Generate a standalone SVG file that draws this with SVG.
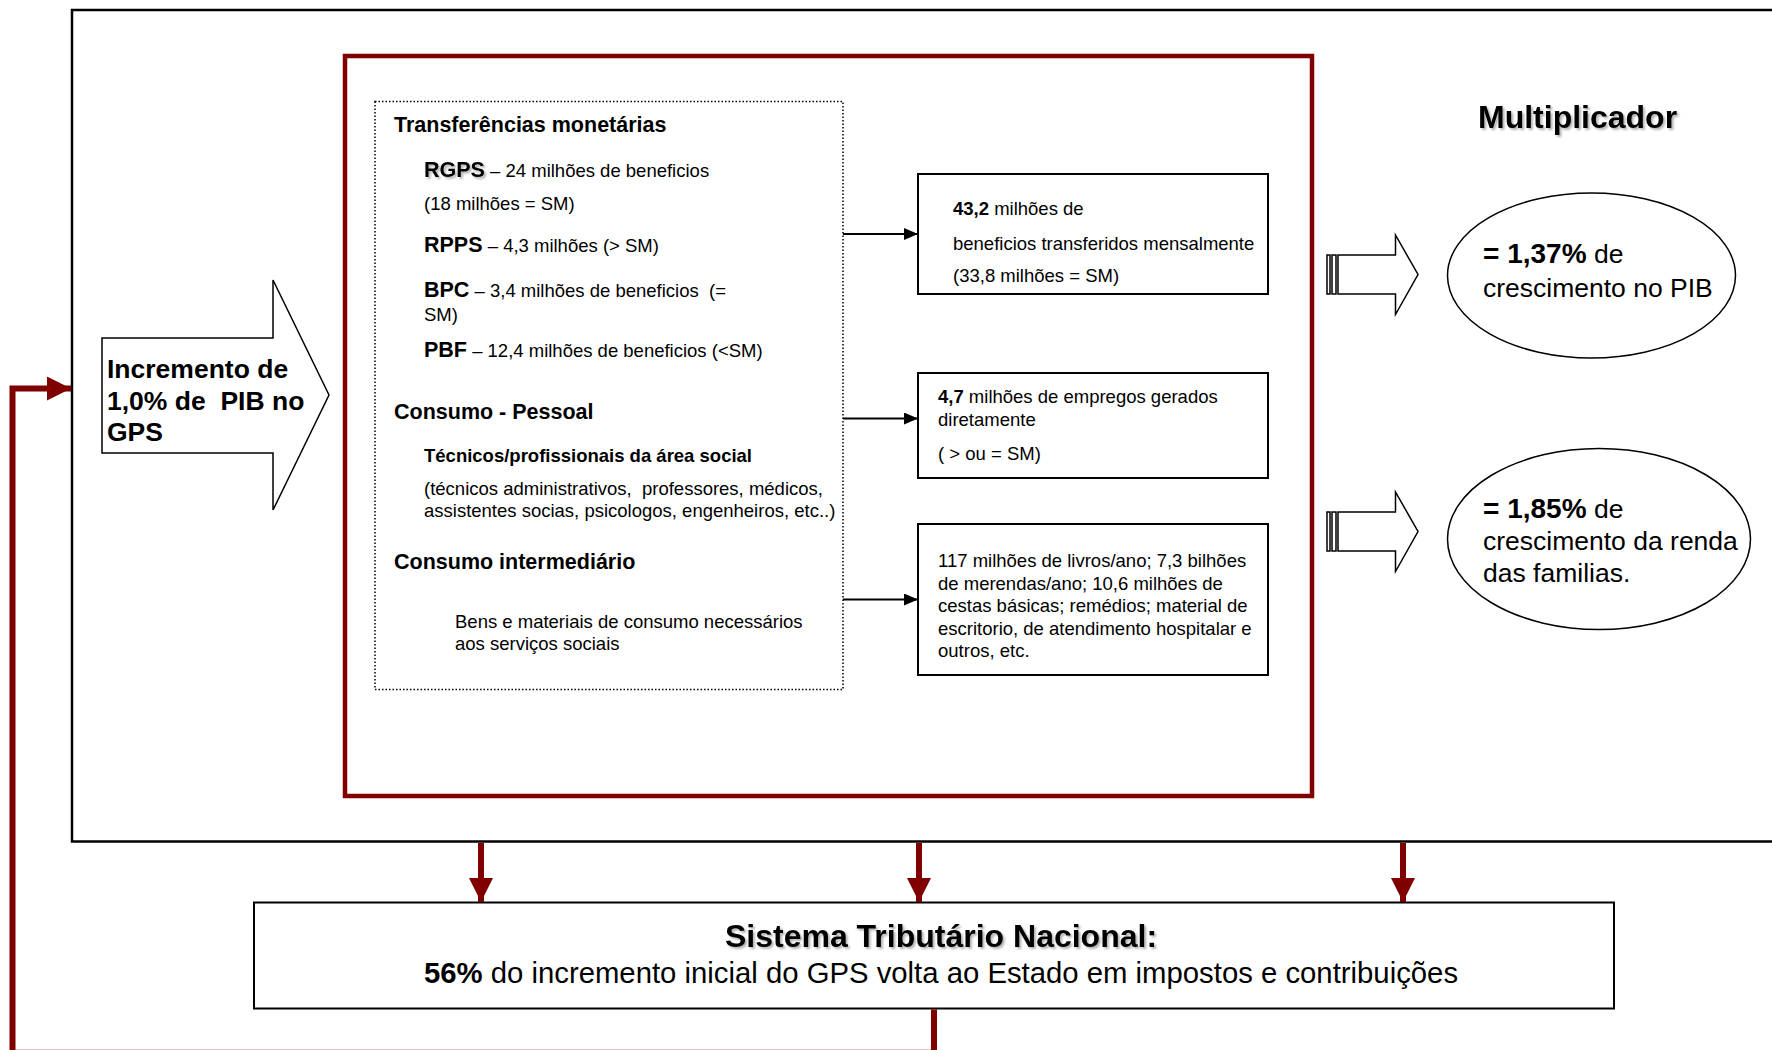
<svg xmlns="http://www.w3.org/2000/svg" width="1772" height="1050" viewBox="0 0 1772 1050">
  <defs>
    <style>
      text { font-family: "Liberation Sans", Arial, sans-serif; fill: #000; white-space: pre; }
      .h { font-weight: bold; font-size: 21.5px; }
      .t { font-size: 18.5px; }
      .b { font-weight: bold; }
      .box { fill: #fff; stroke: #000; stroke-width: 2; }
      .red { fill: none; stroke: #800000; stroke-width: 6; }
      .blk { fill: none; stroke: #000; stroke-width: 2; }
      .blockarrow { fill: #fff; stroke: #000; stroke-width: 1.5; stroke-linejoin: miter; }
    </style>
    <filter id="shadow" x="-5%" y="-20%" width="110%" height="150%">
      <feDropShadow dx="2" dy="2" stdDeviation="1.2" flood-color="#000" flood-opacity="0.3"/>
    </filter>
    <marker id="arrBlack" markerUnits="userSpaceOnUse" markerWidth="14" markerHeight="12" refX="14" refY="6" orient="auto">
      <path d="M0,0 L14,6 L0,12 z" fill="#000"/>
    </marker>
    <marker id="arrRed" markerUnits="userSpaceOnUse" markerWidth="24" markerHeight="24" refX="24" refY="12" orient="auto">
      <path d="M0,0 L24,12 L0,24 z" fill="#800000"/>
    </marker>
    <!-- striped block arrow pointing right, origin at its tip -->
    <g id="stripedArrow">
      <rect class="blockarrow" x="-91" y="-19.5" width="3" height="39"/>
      <rect class="blockarrow" x="-86" y="-19.5" width="4" height="39"/>
      <path class="blockarrow" d="M-80,-19.5 H-22.5 V-39.5 L0,0 L-22.5,40 V19.5 H-80 z"/>
    </g>
  </defs>

  <rect width="1772" height="1050" fill="#fff"/>

  <!-- outer frame -->
  <g id="frame">
    <rect x="72" y="10" width="1720" height="831.5" fill="none" stroke="#000" stroke-width="2.5"/>
  </g>

  <!-- GPS spending block -->
  <g id="gps-block">
    <rect x="345" y="56" width="967" height="740" fill="none" stroke="#800000" stroke-width="4.5"/>
  </g>

  <!-- input arrow -->
  <g id="node-incremento">
    <path class="blockarrow" d="M102,338 H273 V280 L329,395 L273,510 V453 H102 z"/>
    <text class="b" x="107" y="378" font-size="26.5">Incremento de</text>
    <text class="b" x="107" y="410" font-size="26.5">1,0% de  PIB no</text>
    <text class="b" x="107" y="441" font-size="26.5">GPS</text>
  </g>

  <!-- spending categories -->
  <g id="node-categorias">
    <rect x="375" y="101.5" width="468" height="588" fill="none" stroke="#000" stroke-width="1.5" stroke-dasharray="1.5 2"/>
    <text class="h" x="394" y="132">Transferências monetárias</text>
    <text class="t" x="424" y="177"><tspan class="h" filter="url(#shadow)">RGPS</tspan> – 24 milhões de beneficios</text>
    <text class="t" x="424" y="210">(18 milhões = SM)</text>
    <text class="t" x="424" y="252"><tspan class="h">RPPS</tspan> – 4,3 milhões (&gt; SM)</text>
    <text class="t" x="424" y="297"><tspan class="h">BPC</tspan> – 3,4 milhões de beneficios  (=</text>
    <text class="t" x="424" y="321">SM)</text>
    <text class="t" x="424" y="357"><tspan class="h">PBF</tspan> – 12,4 milhões de beneficios (&lt;SM)</text>
    <text class="h" x="394" y="419">Consumo - Pessoal</text>
    <text class="t b" x="424" y="462">Técnicos/profissionais da área social</text>
    <text class="t" x="424" y="495">(técnicos administrativos,  professores, médicos,</text>
    <text class="t" x="424" y="517">assistentes socias, psicologos, engenheiros, etc..)</text>
    <text class="h" x="394" y="569">Consumo intermediário</text>
    <text class="t" x="455" y="628">Bens e materiais de consumo necessários</text>
    <text class="t" x="455" y="650">aos serviços sociais</text>
  </g>

  <!-- results -->
  <g id="node-beneficios">
    <rect class="box" x="918" y="174" width="350" height="120"/>
    <text class="t" x="953" y="215"><tspan class="b">43,2</tspan> milhões de</text>
    <text class="t" x="953" y="250">beneficios transferidos mensalmente</text>
    <text class="t" x="953" y="282">(33,8 milhões = SM)</text>
  </g>
  <g id="node-empregos">
    <rect class="box" x="918" y="373" width="350" height="105"/>
    <text class="t" x="938" y="403"><tspan class="b">4,7</tspan> milhões de empregos gerados</text>
    <text class="t" x="938" y="426">diretamente</text>
    <text class="t" x="938" y="460">( &gt; ou = SM)</text>
  </g>
  <g id="node-bens">
    <rect class="box" x="918" y="524" width="350" height="151"/>
    <text class="t" x="938" y="567">117 milhões de livros/ano; 7,3 bilhões</text>
    <text class="t" x="938" y="590">de merendas/ano; 10,6 milhões de</text>
    <text class="t" x="938" y="612">cestas básicas; remédios; material de</text>
    <text class="t" x="938" y="635">escritorio, de atendimento hospitalar e</text>
    <text class="t" x="938" y="657">outros, etc.</text>
  </g>

  <!-- multiplier -->
  <g id="node-multiplicador">
    <text class="b" x="1478" y="128" font-size="32" filter="url(#shadow)">Multiplicador</text>
  </g>
  <g id="node-pib">
    <use href="#stripedArrow" x="1418" y="274.5"/>
    <ellipse cx="1591.5" cy="275.5" rx="144" ry="82.5" fill="#fff" stroke="#000" stroke-width="1.5"/>
    <text x="1483" y="263" font-size="26.5"><tspan class="b" font-size="28">= 1,37%</tspan> de</text>
    <text x="1483" y="297" font-size="26.5">crescimento no PIB</text>
  </g>
  <g id="node-renda">
    <use href="#stripedArrow" x="1418" y="531.5"/>
    <ellipse cx="1599" cy="539" rx="151.5" ry="90.5" fill="#fff" stroke="#000" stroke-width="1.5"/>
    <text x="1483" y="518" font-size="26.5"><tspan class="b" font-size="28">= 1,85%</tspan> de</text>
    <text x="1483" y="550" font-size="26.5">crescimento da renda</text>
    <text x="1483" y="582" font-size="26.5">das familias.</text>
  </g>

  <!-- tax system -->
  <g id="node-tributario">
    <rect class="box" x="254" y="902.5" width="1360" height="106"/>
    <text class="b" x="941" y="947" font-size="32" text-anchor="middle" filter="url(#shadow)">Sistema Tributário Nacional:</text>
    <text x="941" y="983" font-size="29.3" text-anchor="middle"><tspan class="b">56%</tspan> do incremento inicial do GPS volta ao Estado em impostos e contribuições</text>
  </g>

  <!-- connectors -->
  <g id="connectors">
    <line class="blk" x1="843" y1="234" x2="918" y2="234" marker-end="url(#arrBlack)"/>
    <line class="blk" x1="843" y1="418.5" x2="918" y2="418.5" marker-end="url(#arrBlack)"/>
    <line class="blk" x1="843" y1="599.5" x2="918" y2="599.5" marker-end="url(#arrBlack)"/>
    <line class="red" x1="481" y1="843" x2="481" y2="902" marker-end="url(#arrRed)"/>
    <line class="red" x1="919" y1="843" x2="919" y2="902" marker-end="url(#arrRed)"/>
    <line class="red" x1="1403" y1="843" x2="1403" y2="902" marker-end="url(#arrRed)"/>
    <path class="red" d="M934,1009.5 V1052.8 H12.5 V388.5 H71" marker-end="url(#arrRed)"/>
  </g>
</svg>
